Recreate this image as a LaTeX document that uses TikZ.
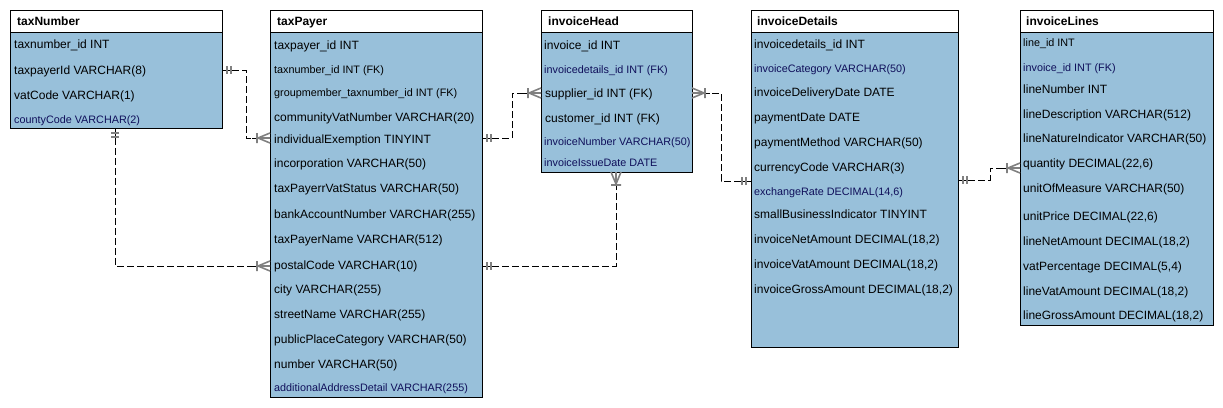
\documentclass[tikz,border=0pt]{standalone}
\usepackage{fontspec}
\setmainfont{Liberation Sans}
\definecolor{bodyblue}{RGB}{152,192,218}
\definecolor{markgray}{RGB}{128,128,128}
\definecolor{fknavy}{RGB}{15,15,90}
\tikzset{
  tblbody/.style={draw=black, line width=1pt, fill=bodyblue, anchor=north west, inner sep=0pt, outer sep=0pt},
  tblhead/.style={draw=black, line width=1pt, fill=white, anchor=north west, inner sep=0pt, outer sep=0pt, minimum height=22pt},
  htext/.style={anchor=west, inner sep=0pt, font=\fontsize{12}{14}\selectfont\bfseries, text height=8.6pt, text depth=0pt},
  row/.style={anchor=west, inner sep=0pt, font=\fontsize{12}{14}\selectfont, text height=8.6pt, text depth=0pt},
  srow/.style={anchor=west, inner sep=0pt, font=\fontsize{10.8}{12}\selectfont, text height=7.7pt, text depth=0pt},
  fk/.style={text=fknavy},
  conn/.style={draw=black, line width=1pt, dash pattern=on 7pt off 3pt},
  connend/.style={draw=black, line width=1pt},
  mk/.style={draw=markgray, line width=1.6pt},
  oneone/.pic={\draw[connend] (0,0) -- (14,0); \draw[mk] (5,-4) -- (5,4) (9,-4) -- (9,4);},
  onemany/.pic={\draw[connend] (12,0) -- (18,0); \draw[mk] (0,-5) -- (12,0) -- (0,5) (0,0) -- (12,0) (13,-5) -- (13,5);}
}
\begin{document}
\begin{tikzpicture}[x=1pt, y=-1pt]
\useasboundingbox (0,0) rectangle (1223,407);

% ---------- taxNumber ----------
\node[tblbody, minimum width=212pt, minimum height=118pt] (taxNumber) at (10,10) {};
\node[tblhead, minimum width=212pt] (taxNumberH) at (10,10) {};
\node[htext] (taxNumberT) at (17,21) {taxNumber};
\node[row] (tn1) at (14,44) {taxnumber\_id INT};
\node[row] (tn2) at (14,70) {taxpayerId VARCHAR(8)};
\node[row] (tn3) at (14,95) {vatCode VARCHAR(1)};
\node[srow, fk] (tn4) at (14,120) {countyCode VARCHAR(2)};

% ---------- taxPayer ----------
\node[tblbody, minimum width=212pt, minimum height=387pt] (taxPayer) at (270,10) {};
\node[tblhead, minimum width=212pt] (taxPayerH) at (270,10) {};
\node[htext] (taxPayerT) at (277,21) {taxPayer};
\node[row] (tp1) at (274,45) {taxpayer\_id INT};
\node[srow] (tp2) at (274,70) {taxnumber\_id INT (FK)};
\node[srow] (tp3) at (274,93) {groupmember\_taxnumber\_id INT (FK)};
\node[row] (tp4) at (274,117) {communityVatNumber VARCHAR(20)};
\node[row] (tp5) at (274,139) {individualExemption TINYINT};
\node[row] (tp6) at (274,163) {incorporation VARCHAR(50)};
\node[row] (tp7) at (274,188) {taxPayerrVatStatus VARCHAR(50)};
\node[row] (tp8) at (274,214) {bankAccountNumber VARCHAR(255)};
\node[row] (tp9) at (274,239) {taxPayerName VARCHAR(512)};
\node[row] (tp10) at (274,265) {postalCode VARCHAR(10)};
\node[row] (tp11) at (274,289) {city VARCHAR(255)};
\node[row] (tp12) at (274,314) {streetName VARCHAR(255)};
\node[row] (tp13) at (274,339) {publicPlaceCategory VARCHAR(50)};
\node[row] (tp14) at (274,364) {number VARCHAR(50)};
\node[srow, fk] (tp15) at (274,388) {additionalAddressDetail VARCHAR(255)};

% ---------- invoiceHead ----------
\node[tblbody, minimum width=151pt, minimum height=162pt] (invoiceHead) at (541,10) {};
\node[tblhead, minimum width=151pt] (invoiceHeadH) at (541,10) {};
\node[htext] (invoiceHeadT) at (548,21) {invoiceHead};
\node[row] (ih1) at (544,45) {invoice\_id INT};
\node[srow, fk] (ih2) at (544,70) {invoicedetails\_id INT (FK)};
\node[row] (ih3) at (545,93) {supplier\_id INT (FK)};
\node[row] (ih4) at (545,118) {customer\_id INT (FK)};
\node[srow, fk] (ih5) at (544,142) {invoiceNumber VARCHAR(50)};
\node[srow, fk] (ih6) at (544,163) {invoiceIssueDate DATE};

% ---------- invoiceDetails ----------
\node[tblbody, minimum width=207pt, minimum height=337pt] (invoiceDetails) at (751,10) {};
\node[tblhead, minimum width=207pt] (invoiceDetailsH) at (751,10) {};
\node[htext] (invoiceDetailsT) at (757,21) {invoiceDetails};
\node[row] (id1) at (754,44) {invoicedetails\_id INT};
\node[srow, fk] (id2) at (754,69) {invoiceCategory VARCHAR(50)};
\node[row] (id3) at (754,92) {invoiceDeliveryDate DATE};
\node[row] (id4) at (754,117) {paymentDate DATE};
\node[row] (id5) at (754,142) {paymentMethod VARCHAR(50)};
\node[row] (id6) at (754,167) {currencyCode VARCHAR(3)};
\node[srow, fk] (id7) at (754,192) {exchangeRate DECIMAL(14,6)};
\node[row] (id8) at (754,214) {smallBusinessIndicator TINYINT};
\node[row] (id9) at (754,239) {invoiceNetAmount DECIMAL(18,2)};
\node[row] (id10) at (754,264) {invoiceVatAmount DECIMAL(18,2)};
\node[row] (id11) at (754,289) {invoiceGrossAmount DECIMAL(18,2)};

% ---------- invoiceLines ----------
\node[tblbody, minimum width=193pt, minimum height=315pt] (invoiceLines) at (1020,10) {};
\node[tblhead, minimum width=193pt] (invoiceLinesH) at (1020,10) {};
\node[htext] (invoiceLinesT) at (1026,21) {invoiceLines};
\node[srow] (il1) at (1023,43) {line\_id INT};
\node[srow, fk] (il2) at (1023,68) {invoice\_id INT (FK)};
\node[row] (il3) at (1023,89) {lineNumber INT};
\node[row] (il4) at (1023,114) {lineDescription VARCHAR(512)};
\node[row] (il5) at (1023,138) {lineNatureIndicator VARCHAR(50)};
\node[row] (il6) at (1023,163) {quantity DECIMAL(22,6)};
\node[row] (il7) at (1023,188) {unitOfMeasure VARCHAR(50)};
\node[row] (il8) at (1023,216) {unitPrice DECIMAL(22,6)};
\node[row] (il9) at (1023,241) {lineNetAmount DECIMAL(18,2)};
\node[row] (il10) at (1023,266) {vatPercentage DECIMAL(5,4)};
\node[row] (il11) at (1023,291) {lineVatAmount DECIMAL(18,2)};
\node[row] (il12) at (1023,315) {lineGrossAmount DECIMAL(18,2)};

% ---------- connector end points ----------
\coordinate (c1a) at (taxNumber.east |- tn2);
\coordinate (c1b) at (270,138);
\coordinate (c2a) at (115,128);
\coordinate (c2b) at (270,266);
\coordinate (c3a) at (482,138);
\coordinate (c3b) at (541,93);
\coordinate (c4a) at (482,266);
\coordinate (c4b) at (616,172);
\coordinate (c5a) at (692,93);
\coordinate (c5b) at (751,181);
\coordinate (c6a) at (958,180);
\coordinate (c6b) at (1020,168);

% ---------- connectors ----------
\draw[conn] (c1a) -- (246,70) -- (246,138) -- (c1b);
\draw[conn] (c2a) -- (115,266) -- (c2b);
\draw[conn] (c3a) -- (512,138) -- (512,93) -- (c3b);
\draw[conn] (c4a) -- (616,266) -- (c4b);
\draw[conn] (c5a) -- (721,93) -- (721,181) -- (c5b);
\draw[conn] (c6a) -- (990,180) -- (990,168) -- (c6b);

% ---------- markers ----------
\pic at (c1a) {oneone};
\pic[rotate=180] at (c1b) {onemany};
\pic[rotate=-90] at (c2a) {oneone};
\pic[rotate=180] at (c2b) {onemany};
\pic at (c3a) {oneone};
\pic[rotate=180] at (c3b) {onemany};
\pic at (c4a) {oneone};
\pic[rotate=-90] at (c4b) {onemany};
\pic at (c5a) {onemany};
\pic[rotate=180] at (c5b) {oneone};
\pic at (c6a) {oneone};
\pic[rotate=180] at (c6b) {onemany};
\end{tikzpicture}
\end{document}
